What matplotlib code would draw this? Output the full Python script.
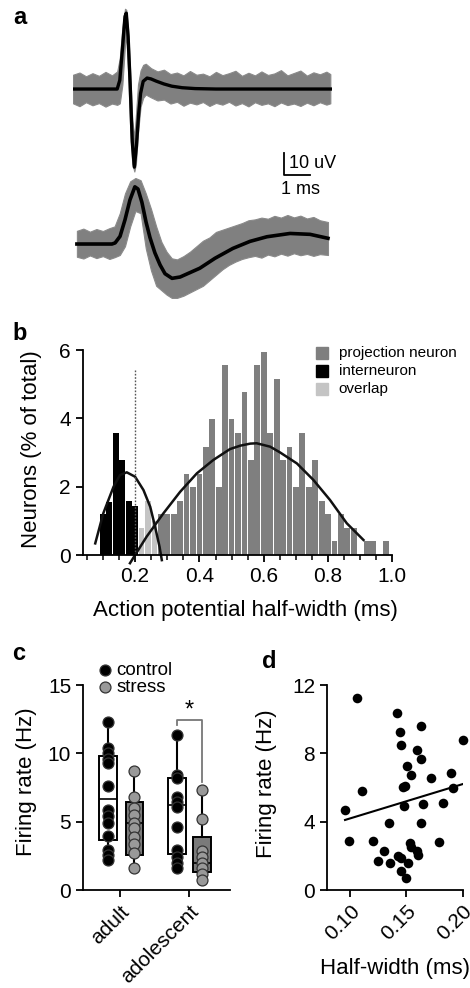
import matplotlib.pyplot as plt
import numpy as np
from matplotlib.patches import Rectangle
from matplotlib.ticker import MultipleLocator

plt.rcParams['font.family'] = ['Liberation Sans', 'DejaVu Sans']
plt.rcParams['axes.linewidth'] = 1.3
plt.rcParams['xtick.major.width'] = 1.3
plt.rcParams['ytick.major.width'] = 1.3
plt.rcParams['xtick.minor.width'] = 1.1

# ---------------- panel a: spike waveforms (ms, uV) ----------------
top_mean_t = [0, 1.7, 1.8, 1.9, 2.0, 2.05, 2.12, 2.2, 2.28, 2.36, 2.44, 2.52, 2.6,
              2.7, 2.85, 3.0, 3.2, 3.5, 3.8, 4.2, 4.7, 5.5, 9.9]
top_mean_v = [0, 0, 4, 18, 33, 34.5, 24, 2, -24, -35.5, -26, -12, -2,
              3.5, 5.0, 4.6, 3.6, 2.3, 1.3, 0.6, 0.2, 0, 0]

top_band_t = [0.0, 0.25, 0.5, 0.75, 1.0, 1.25, 1.5, 1.7, 1.8, 1.9, 2.0, 2.05, 2.12,
              2.2, 2.28, 2.36, 2.42, 2.5, 2.6, 2.7, 2.8, 3.0, 3.25, 3.5, 3.75, 4.0,
              4.25, 4.5, 4.75, 5.0, 5.25, 5.5, 5.75, 6.0, 6.25, 6.5, 6.75, 7.0, 7.25,
              7.5, 7.75, 8.0, 8.25, 8.5, 8.75, 9.0, 9.25, 9.5, 9.75, 9.9]
top_band_hi = [6.5, 7.5, 5.8, 7.2, 6.0, 7.8, 6.2, 8.0, 14, 28, 36.5, 36, 27,
               8, -14, -22, -12, 2, 8.5, 11, 11.5, 9.5, 8.0, 8.8, 6.8, 7.5,
               6.2, 8.2, 6.5, 7.0, 5.8, 7.8, 6.3, 7.2, 8.3, 6.0, 7.4, 6.2, 8.0,
               6.4, 7.1, 8.6, 6.2, 7.3, 8.4, 6.1, 7.6, 6.7, 7.9, 6.8]
top_band_lo = [-6.5, -7.8, -6.0, -7.4, -6.4, -8.0, -6.6, -7.2, -6.5, 2, 20, 24, 8,
               -18, -34, -37.5, -34, -20, -8, -4, -2.5, -3.8, -5.2, -4.8, -6.6, -5.8,
               -7.6, -6.2, -7.0, -5.9, -7.7, -6.3, -7.1, -5.8, -7.5, -6.4, -7.9, -6.0, -7.2,
               -6.5, -7.8, -6.1, -7.3, -6.6, -7.7, -6.2, -7.4, -6.0, -7.1, -6.5]

bot_mean_t = [0.15, 1.5, 1.62, 1.81, 2.0, 2.19, 2.38, 2.5, 2.65, 2.81, 2.96, 3.15,
              3.35, 3.54, 3.81, 4.12, 4.5, 4.88, 5.46, 6.15, 6.81, 7.46, 8.35, 9.12, 9.81]
bot_mean_v = [0, 0, 0.5, 3.5, 11, 20, 26, 25, 19, 10, 3, -4,
              -9.5, -13.5, -15.6, -15, -13, -11, -6.5, -2, 1.2, 3.3, 4.8, 4.4, 2.6]

bot_band_t = [0.15, 0.4, 0.65, 0.9, 1.15, 1.4, 1.6, 1.8, 2.0, 2.2, 2.4, 2.6, 2.8, 3.0,
              3.2, 3.4, 3.6, 3.8, 4.0, 4.25, 4.5, 4.75, 5.0, 5.25, 5.5, 5.75, 6.0,
              6.25, 6.5, 6.75, 7.0, 7.25, 7.5, 7.75, 8.0, 8.25, 8.5, 8.75, 9.0, 9.25,
              9.5, 9.81]
bot_band_hi = [6.0, 7.0, 5.6, 6.8, 5.9, 7.2, 8.0, 14, 23, 28.5, 30, 29, 23, 16,
               8, 1, -3.5, -6.5, -7.0, -5.5, -3.5, -1.0, 1.5, 3.0, 5.5, 6.5, 7.5,
               8.5, 9.5, 10.8, 11.2, 12.0, 11.5, 12.8, 12.0, 13.2, 12.1, 12.9, 11.6, 12.3,
               10.8, 10.0]
bot_band_lo = [-5.8, -6.6, -5.2, -6.4, -5.5, -6.8, -6.0, -5.0, -1, 8, 15, 14, -2, -12,
               -19, -21, -23, -24.5, -24.5, -23.5, -22, -20.5, -19, -16.5, -14, -11.5, -9.5,
               -8.0, -6.8, -6.0, -5.4, -6.2, -4.8, -5.6, -4.4, -5.3, -4.2, -5.1, -4.5, -5.4,
               -4.6, -5.0]

# ---------------- panel b: half-width histogram ----------------
inter_x = [0.10, 0.12, 0.14, 0.16, 0.18, 0.20]
inter_h = [1.19, 1.56, 3.57, 2.78, 1.59, 1.43]
overlap_x = [0.22, 0.24, 0.26]
overlap_h = [0.79, 1.59, 1.0]
proj_x = [0.28, 0.30, 0.32, 0.34, 0.36, 0.38, 0.40, 0.42, 0.44, 0.46, 0.48, 0.50,
          0.52, 0.54, 0.56, 0.58, 0.60, 0.62, 0.64, 0.66, 0.68, 0.70, 0.72, 0.74,
          0.76, 0.78, 0.80, 0.82, 0.84, 0.86, 0.88, 0.90, 0.92, 0.94, 0.96, 0.98]
proj_h = [1.19, 1.19, 1.19, 1.59, 2.38, 1.98, 2.38, 3.17, 3.97, 1.98, 5.56, 3.97,
          3.57, 4.76, 2.78, 5.56, 5.95, 3.57, 5.16, 2.78, 3.17, 1.98, 3.57, 1.98,
          2.78, 1.59, 1.19, 0.40, 1.19, 0.79, 0.79, 0.0, 0.40, 0.40, 0.0, 0.40]
inter_fit_x = [0.076, 0.101, 0.133, 0.153, 0.174, 0.200, 0.226, 0.247, 0.262, 0.276, 0.283]
inter_fit_y = [0.34, 1.22, 2.00, 2.34, 2.42, 2.29, 1.90, 1.41, 0.83, 0.24, -0.15]
proj_fit_x = [0.184, 0.236, 0.288, 0.340, 0.392, 0.443, 0.495, 0.527, 0.558, 0.578,
              0.620, 0.651, 0.703, 0.754, 0.806, 0.858, 0.910]
proj_fit_y = [-0.24, 0.54, 1.22, 1.85, 2.39, 2.78, 3.10, 3.20, 3.26, 3.27,
              3.17, 3.00, 2.68, 2.20, 1.61, 0.93, 0.44]
cutoff_x = 0.2
cutoff_top = 5.45
hist_labels = ['projection neuron', 'interneuron', 'overlap']
hist_colors = ['#7f7f7f', '#000000', '#c4c4c4']

# ---------------- panel c: firing rate box plots ----------------
groups = ['adult', 'adolescent']
adult_control = [12.31, 10.36, 10.0, 9.56, 9.27, 7.6, 5.85, 5.41, 4.92, 3.95, 2.93, 2.56, 2.19]
adult_stress = [8.73, 6.83, 5.98, 5.49, 4.92, 4.51, 3.90, 3.37, 2.73, 1.59]
adol_control = [11.34, 8.41, 8.17, 6.83, 6.46, 6.10, 4.63, 2.93, 2.44, 1.95, 1.59]
adol_stress = [7.32, 5.17, 2.85, 2.40, 2.00, 1.60, 1.20, 0.75]
box_q1 = [3.66, 2.56, 2.63, 1.34]
box_med = [6.63, 4.92, 6.22, 2.00]
box_q3 = [9.80, 6.46, 8.17, 3.90]
box_lo = [2.19, 1.59, 1.59, 0.75]
box_hi = [12.31, 8.73, 11.34, 7.32]
sig_x = [0.82, 0.82, 1.19, 1.19]
sig_y = [12.07, 12.44, 12.44, 7.92]

# ---------------- panel d: firing rate vs half-width ----------------
hw = [0.1059, 0.0956, 0.0991, 0.1103, 0.120, 0.130, 0.125, 0.1347, 0.1353, 0.142,
      0.144, 0.145, 0.1426, 0.145, 0.1456, 0.1494, 0.147, 0.149, 0.148, 0.151,
      0.1544, 0.1515, 0.153, 0.1538, 0.1626, 0.1597, 0.1626, 0.1594, 0.160, 0.1647,
      0.1626, 0.172, 0.1824, 0.1794, 0.1897, 0.1918, 0.200]
rate = [11.26, 4.68, 2.89, 5.80, 2.87, 2.28, 1.70, 3.94, 1.60, 10.34,
        9.27, 8.49, 1.99, 1.85, 1.11, 0.68, 6.05, 6.09, 4.92, 7.26,
        6.73, 1.60, 2.73, 2.54, 9.60, 8.20, 7.67, 2.30, 2.05, 5.01,
        3.90, 6.58, 5.07, 2.79, 6.87, 5.99, 8.78]
fit_x = [0.0956, 0.200]
fit_y = [4.1, 6.2]

W, H = 470, 988
fig = plt.figure(figsize=(W / 100, H / 100), dpi=100)


def add_axes_px(left, top, right, bottom):
    return fig.add_axes([left / W, 1 - bottom / H, (right - left) / W, (bottom - top) / H])


def style_axes(ax):
    ax.spines['top'].set_visible(False)
    ax.spines['right'].set_visible(False)
    ax.tick_params(direction='out', length=5, labelsize=15)
    ax.tick_params(which='minor', direction='out', length=3.5)


# panel a
ax_a = add_axes_px(73, 5, 335, 300)
ax_a.set_xlim(0, 10.08)
ax_a.set_ylim(-95.9, 38.2)
ax_a.axis('off')
off = -70.45
ax_a.fill_between(top_band_t, top_band_lo, top_band_hi, color='#808080', lw=0.8, ec='#8a8a8a')
ax_a.plot(top_mean_t, top_mean_v, color='black', lw=2.4, solid_joinstyle='round')
ax_a.fill_between(bot_band_t, np.array(bot_band_lo) + off, np.array(bot_band_hi) + off,
                  color='#808080', lw=0.8, ec='#8a8a8a')
ax_a.plot(bot_mean_t, np.array(bot_mean_v) + off, color='black', lw=2.6, solid_joinstyle='round')
# scale bar: 10 uV, 1 ms
ax_a.plot([8.12, 8.12, 9.12], [-29.1, -39.1, -39.1], color='black', lw=1.3)
ax_a.text(8.3, -34.0, '10 uV', fontsize=13, ha='left', va='center')
ax_a.text(8.75, -45.8, '1 ms', fontsize=13, ha='center', va='center')

# panel b
ax_b = add_axes_px(82.7, 350, 392.4, 555)
bw = 0.018
ax_b.bar(proj_x, proj_h, width=bw, color=hist_colors[0], lw=0)
ax_b.bar(inter_x, inter_h, width=bw, color=hist_colors[1], lw=0)
ax_b.bar(overlap_x, overlap_h, width=bw, color=hist_colors[2], lw=0)
ax_b.plot(inter_fit_x, inter_fit_y, color='#111111', lw=1.8, clip_on=False)
ax_b.plot(proj_fit_x, proj_fit_y, color='#111111', lw=1.8, clip_on=False)
ax_b.plot([cutoff_x, cutoff_x], [0, cutoff_top], color='#555555', lw=1.0, ls=(0, (1.2, 1.2)))
ax_b.set_xlim(0.037, 1.0)
ax_b.set_ylim(0, 6)
ax_b.set_yticks([0, 2, 4, 6])
ax_b.set_xticks([0.2, 0.4, 0.6, 0.8, 1.0])
ax_b.set_xticklabels(['0.2', '0.4', '0.6', '0.8', '1.0'])
ax_b.xaxis.set_minor_locator(MultipleLocator(0.05))
style_axes(ax_b)
ax_b.set_xlabel('Action potential half-width (ms)', fontsize=16)
ax_b.set_ylabel('Neurons (% of total)', fontsize=16)
ax_b.xaxis.set_label_coords(0.524, -0.22)
ax_b.yaxis.set_label_coords(-0.132, 0.517)
for i, (lab, col) in enumerate(zip(hist_labels, hist_colors)):
    yc = 0.985 - i * 0.087
    ax_b.add_patch(Rectangle((0.754, yc - 0.029), 0.039, 0.058, color=col,
                             transform=ax_b.transAxes, clip_on=False))
    ax_b.text(0.826, yc, lab, fontsize=11, ha='left', va='center', transform=ax_b.transAxes)

# panel c
ax_c = add_axes_px(83, 685, 230, 890)
positions = [-0.18, 0.21, 0.82, 1.19]
stats = [dict(med=m, q1=a, q3=b, whislo=lo, whishi=hi)
         for m, a, b, lo, hi in zip(box_med, box_q1, box_q3, box_lo, box_hi)]
bp = ax_c.bxp(stats, positions=positions, widths=0.26, patch_artist=True,
              showcaps=False, showfliers=False,
              boxprops=dict(lw=1.4, edgecolor='black'),
              whiskerprops=dict(lw=1.5, color='black'),
              medianprops=dict(lw=1.2, color='black'))
for patch, fc in zip(bp['boxes'], ['white', '#7a7a7a', 'white', '#7a7a7a']):
    patch.set_facecolor(fc)
for pos, vals, fc in zip(positions, [adult_control, adult_stress, adol_control, adol_stress],
                         ['black', '#999999', 'black', '#999999']):
    ax_c.scatter([pos] * len(vals), vals, s=62, color=fc, edgecolor='#333333', lw=0.9,
                 zorder=3, clip_on=False)
ax_c.plot(sig_x, sig_y, color='#777777', lw=1.3)
ax_c.text((sig_x[0] + sig_x[2]) / 2, 12.35, '*', fontsize=17, ha='center', va='bottom')
ax_c.set_xlim(-0.536, 1.594)
ax_c.set_ylim(0, 15)
ax_c.set_yticks([0, 5, 10, 15])
ax_c.set_xticks([0, 1])
ax_c.set_xticklabels(groups, rotation=45, ha='right', rotation_mode='anchor')
style_axes(ax_c)
ax_c.set_ylabel('Firing rate (Hz)', fontsize=16)
ax_c.yaxis.set_label_coords(-0.31, 0.528)
for i, (lab, col) in enumerate(zip(['control', 'stress'], ['black', '#999999'])):
    yc = 1.073 - i * 0.083
    ax_c.scatter([0.15], [yc], s=62, color=col, edgecolor='#333333', lw=0.9,
                 transform=ax_c.transAxes, clip_on=False)
    ax_c.text(0.225, yc, lab, fontsize=13.5, ha='left', va='center', transform=ax_c.transAxes)

# panel d
ax_d = add_axes_px(327, 685, 462.7, 890)
ax_d.scatter(hw, rate, s=48, color='black', lw=0, clip_on=False, zorder=3)
ax_d.plot(fit_x, fit_y, color='black', lw=1.5)
ax_d.set_xlim(0.0796, 0.2)
ax_d.set_ylim(0, 12)
ax_d.set_yticks([0, 4, 8, 12])
ax_d.set_xticks([0.10, 0.15, 0.20])
ax_d.set_xticklabels(['0.10', '0.15', '0.20'], rotation=45, ha='right', rotation_mode='anchor')
style_axes(ax_d)
ax_d.set_ylabel('Firing rate (Hz)', fontsize=16)
ax_d.set_xlabel('Half-width (ms)', fontsize=16)
ax_d.yaxis.set_label_coords(-0.37, 0.52)
ax_d.xaxis.set_label_coords(0.5, -0.332)

# panel letters
for lab, x, y in [('a', 20, 17), ('b', 20, 333), ('c', 19, 654), ('d', 269, 661)]:
    fig.text(x / W, 1 - y / H, lab, fontsize=17, fontweight='bold', ha='center', va='center')

fig.savefig('out.png', dpi=100)
